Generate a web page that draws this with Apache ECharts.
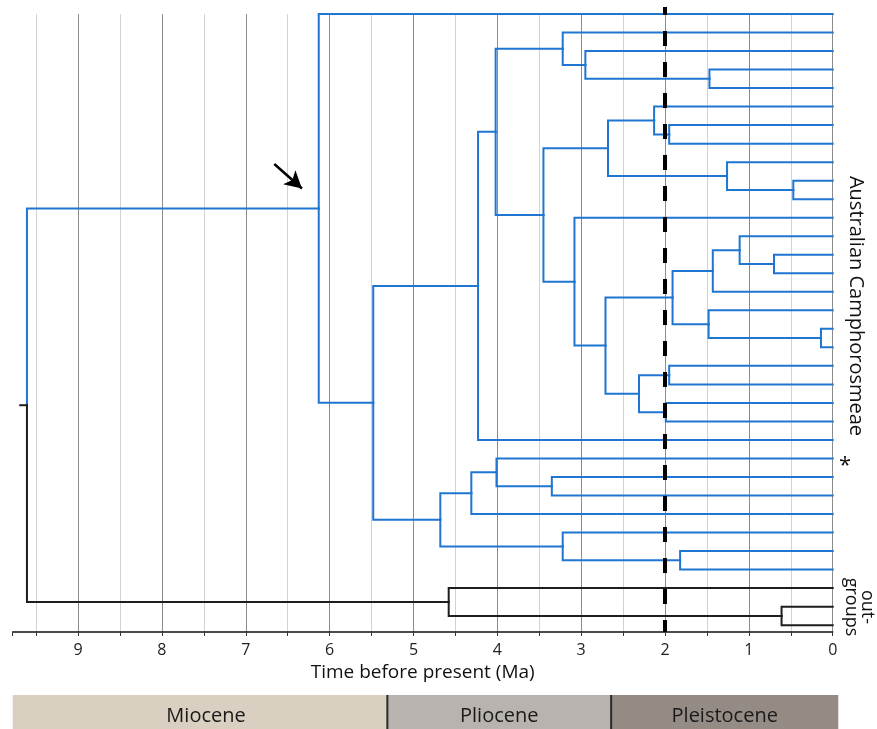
<!DOCTYPE html>
<html><head><meta charset="utf-8">
<script src="https://cdn.jsdelivr.net/npm/echarts@6/dist/echarts.min.js"></script>
<style>html,body{margin:0;padding:0;background:#fff}#c{width:877px;height:729px}</style>
</head><body><div id="c"></div>
<script>
// ---------- DATA ----------
const leafCount = 34;                 // tips, top to bottom (index = row)
const outgroupLeaves = [31, 32, 33];
// internal nodes (children listed before parents): name, age in Ma, children (leaf rows or node names)
const nodeNames = ['F','E','C','K','I','L','J','G','S','R','P','T','Q','N','U','V','O','M','H','D','B','A','Z','Y','W','AA','X','LW','CR','ST','OG2','OG','ROOT'];
const nodeAges  = [1.47,2.95,3.22,1.95,2.13,0.47,1.26,2.68,0.70,1.11,1.43,0.14,1.48,1.91,1.95,1.99,2.31,2.71,3.08,3.45,4.02,4.23,3.35,4.01,4.31,1.82,3.22,4.68,5.48,6.13,0.61,4.58,9.61];
const nodeChildren = [[3,4],[2,'F'],[1,'E'],[6,7],[5,'K'],[9,10],[8,'L'],['I','J'],[13,14],[12,'S'],['R',15],[17,18],[16,'T'],['P','Q'],[19,20],[21,22],['U','V'],['N','O'],[11,'M'],['G','H'],['C','D'],['B',23],[25,26],[24,'Z'],['Y',27],[29,30],[28,'AA'],['W','X'],['A','LW'],[0,'CR'],[32,33],[31,'OG2'],['ST','OG']];
const rootStemAge = 9.69;
const xTickLabels = ['0','1','2','3','4','5','6','7','8','9'];
const epochNames = ['Miocene', 'Pliocene', 'Pleistocene'];
const epochOlder = [9.78, 5.31, 2.64];
const epochYounger = [5.31, 2.64, -0.07];
const referenceLineAge = 2;
const arrowFrom = [6.66, 8.1];
const arrowTo = [6.33, 9.42];

// ---------- BUILD ----------
const info = {};
function ref(c) { return typeof c === 'number' ? { age: 0, y: c, out: outgroupLeaves.includes(c) } : info[c]; }
nodeNames.forEach((n, i) => {
  const kids = nodeChildren[i].map(ref);
  info[n] = { age: nodeAges[i], y: (kids[0].y + kids[kids.length - 1].y) / 2, out: kids.every(k => k.out) };
});
const edges = [];
nodeNames.forEach((n, i) => {
  const p = info[n];
  nodeChildren[i].map(ref).forEach(k => edges.push([p.age, p.y, k.age, k.y, k.out ? 1 : 0]));
});
edges.push([rootStemAge, info.ROOT.y, info.ROOT.age, info.ROOT.y, 1]);

const BLUE = '#1f76d2', DARK = '#1e1e1e', FONT = 'Open Sans';
const epochColors = ['#d9d0c1', '#b8b3ae', '#958b85'];
const Y_MAX = 33.37;

const chart = echarts.init(document.getElementById('c'), null, { renderer: 'canvas' });
chart.setOption({
  animation: false,
  backgroundColor: '#fff',
  grid: [
    { left: 12.7, right: 44.3, top: 14, bottom: 97 },
    { left: 12.7, right: 38.7, top: 695, height: 40 }
  ],
  xAxis: [{
    type: 'value', gridIndex: 0, inverse: true, min: 0, max: 9.78, interval: 0.5,
    axisLine: { show: true, onZero: false, lineStyle: { color: '#111', width: 1.5 } },
    axisTick: { show: true, length: 4, lineStyle: { color: '#333', width: 1 } },
    axisLabel: {
      margin: 10, fontSize: 16, fontFamily: FONT, color: '#222',
      formatter: v => { const r = Math.round(v); return Math.abs(v - r) < 1e-6 && xTickLabels[r] !== undefined ? xTickLabels[r] : ''; }
    },
    splitLine: { show: true, showMaxLine: false, lineStyle: { color: ['#8c8c8c', '#d2d2d2'], width: 1 } },
    name: 'Time before present (Ma)', nameLocation: 'middle', nameGap: 31,
    nameTextStyle: { fontSize: 19, fontFamily: FONT, color: '#111' }
  }, {
    type: 'value', gridIndex: 1, inverse: true, min: -0.07, max: 9.78, show: false
  }],
  yAxis: [{
    type: 'value', gridIndex: 0, inverse: true, min: 0, max: Y_MAX, show: false
  }, {
    type: 'value', gridIndex: 1, min: 0, max: 1, show: false
  }],
  series: [{
    type: 'custom', xAxisIndex: 0, yAxisIndex: 0, z: 3,
    data: edges,
    renderItem: (params, api) => {
      const a = api.coord([api.value(0), api.value(1)]);
      const b = api.coord([api.value(0), api.value(3)]);
      const c = api.coord([api.value(2), api.value(3)]);
      return { type: 'polyline', shape: { points: [a, b, c] },
        style: { stroke: api.value(4) ? DARK : BLUE, lineWidth: 2, fill: null, lineJoin: 'miter', lineCap: 'square' } };
    }
  }, {
    type: 'custom', xAxisIndex: 0, yAxisIndex: 0, z: 5, clip: false,
    data: [[referenceLineAge]],
    renderItem: (params, api) => {
      const top = api.coord([api.value(0), 0]);
      const bot = api.coord([api.value(0), Y_MAX]);
      return { type: 'line', shape: { x1: top[0], y1: top[1] - 7, x2: bot[0], y2: bot[1] },
        style: { stroke: '#000', lineWidth: 4, lineDash: [15, 16], lineDashOffset: 7 } };
    }
  }, {
    type: 'line', xAxisIndex: 0, yAxisIndex: 0, data: [], z: 5,
    markLine: {
      silent: true, animation: false, label: { show: false },
      data: [
        [{ coord: arrowFrom, symbol: 'none', lineStyle: { color: '#000', width: 2.5, type: 'solid' } },
         { coord: arrowTo, symbol: 'arrow', symbolSize: [14, 17] }]
      ]
    }
  }, {
    type: 'custom', xAxisIndex: 1, yAxisIndex: 1,
    data: epochNames.map((n, i) => [epochOlder[i], epochYounger[i], i]),
    renderItem: (params, api) => {
      const i = api.value(2);
      const p0 = api.coord([api.value(0), 0]);
      const p1 = api.coord([api.value(1), 1]);
      const x = Math.min(p0[0], p1[0]), w = Math.abs(p1[0] - p0[0]);
      const y = Math.min(p0[1], p1[1]), h = Math.abs(p1[1] - p0[1]);
      const children = [
        { type: 'rect', shape: { x, y, width: w, height: h }, style: { fill: epochColors[i] } },
        { type: 'text', x: x + w / 2 + (i === 0 ? 6 : 0), y: y + 21, style: { text: epochNames[i], fontSize: 20, fontFamily: FONT, fill: '#1a1a1a', align: 'center', verticalAlign: 'middle' } }
      ];
      if (i > 0) children.push({ type: 'line', shape: { x1: x, y1: y, x2: x, y2: y + h }, style: { stroke: '#2a2a2a', lineWidth: 2 } });
      return { type: 'group', children };
    }
  }],
  graphic: [
    { type: 'text', x: 856, y: 306, rotation: -Math.PI / 2,
      style: { text: 'Australian Camphorosmeae', fontSize: 20, fontFamily: FONT, fill: '#111', align: 'center', verticalAlign: 'middle' } },
    { type: 'text', x: 845, y: 466,
      style: { text: '*', fontSize: 22, fontFamily: FONT, fill: '#111', align: 'center', verticalAlign: 'middle' } },
    { type: 'text', x: 859, y: 607, rotation: -Math.PI / 2,
      style: { text: 'out-\ngroups', fontSize: 18, lineHeight: 16, fontFamily: FONT, fill: '#111', align: 'center', verticalAlign: 'middle' } }
  ]
});
</script></body></html>
